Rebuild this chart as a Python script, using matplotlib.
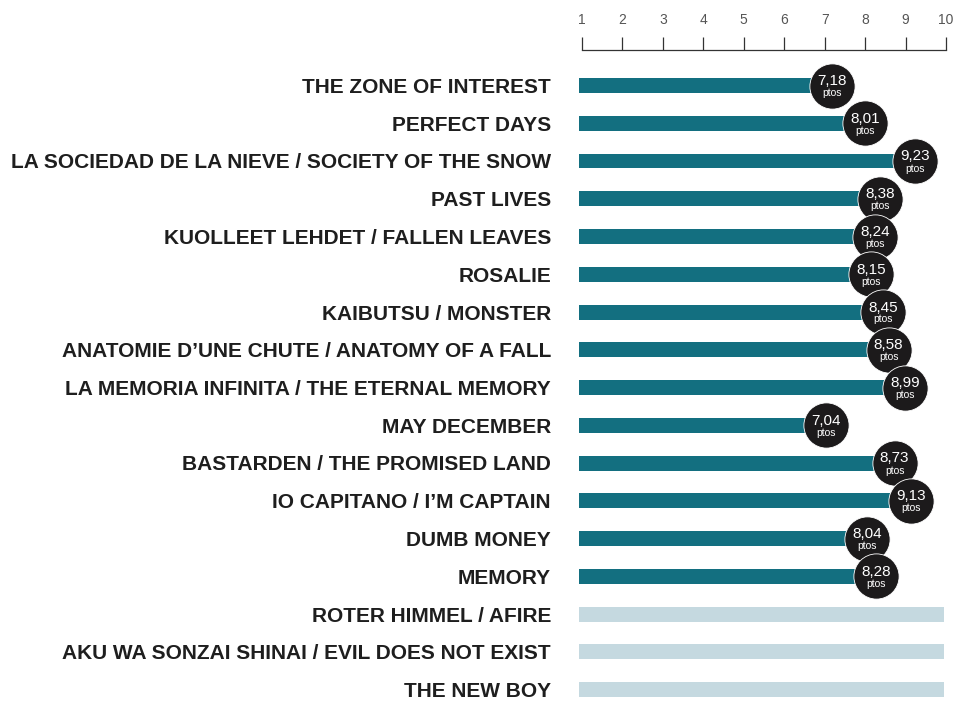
import matplotlib
matplotlib.use("Agg")
import matplotlib.pyplot as plt
from matplotlib.transforms import offset_copy

titles = [
    "THE ZONE OF INTEREST",
    "PERFECT DAYS",
    "LA SOCIEDAD DE LA NIEVE / SOCIETY OF THE SNOW",
    "PAST LIVES",
    "KUOLLEET LEHDET / FALLEN LEAVES",
    "ROSALIE",
    "KAIBUTSU / MONSTER",
    "ANATOMIE D\u2019UNE CHUTE / ANATOMY OF A FALL",
    "LA MEMORIA INFINITA / THE ETERNAL MEMORY",
    "MAY DECEMBER",
    "BASTARDEN / THE PROMISED LAND",
    "IO CAPITANO / I\u2019M CAPTAIN",
    "DUMB MONEY",
    "MEMORY",
    "ROTER HIMMEL / AFIRE",
    "AKU WA SONZAI SHINAI / EVIL DOES NOT EXIST",
    "THE NEW BOY",
]
scores = [7.18, 8.01, 9.23, 8.38, 8.24, 8.15, 8.45, 8.58, 8.99, 7.04,
          8.73, 9.13, 8.04, 8.28, None, None, None]
score_labels = ["7,18", "8,01", "9,23", "8,38", "8,24", "8,15", "8,45", "8,58",
                "8,99", "7,04", "8,73", "9,13", "8,04", "8,28"]
ticks = [1, 2, 3, 4, 5, 6, 7, 8, 9, 10]

W, H = 957, 701
fig = plt.figure(figsize=(W / 100, H / 100), dpi=100)
ax_left, ax_right, ax_top, ax_bottom = 579, 957, 50, 701
ax = fig.add_axes([ax_left / W, 1 - ax_bottom / H, (ax_right - ax_left) / W, (ax_bottom - ax_top) / H])

scale = 40.44
x0 = 1 - (582 - ax_left) / scale
x1 = 1 + (ax_right - 582) / scale
ax.set_xlim(x0, x1)
row = 37.75
ax.set_ylim((ax_bottom - 85.5) / row, -(85.5 - ax_top) / row)

dark = "#136f80"
light = "#c5d9e0"
bar_h = 15 / row
full_end = 1 + (944 - 582) / scale

for i, (t, s) in enumerate(zip(titles, scores)):
    if s is None:
        ax.barh(i, full_end - x0, left=x0, height=bar_h, color=light, zorder=1)
    else:
        ax.barh(i, s - x0, left=x0, height=bar_h, color=dark, zorder=1)

tr1 = offset_copy(ax.transData, fig=fig, x=0, y=4.5, units="dots")
tr2 = offset_copy(ax.transData, fig=fig, x=0, y=-7.5, units="dots")
for i, s in enumerate(scores):
    if s is None:
        continue
    ax.scatter([s], [i], s=1060, color="#1c1a1b", edgecolors="white", linewidths=0.6,
               zorder=3 + i, clip_on=False)
    ax.text(s, i, score_labels[i], transform=tr1, ha="center", va="center",
            color="white", fontsize=11, family="Liberation Sans", zorder=3 + i)
    ax.text(s, i, "ptos", transform=tr2, ha="center", va="center",
            color="white", fontsize=7.5, family="Liberation Sans", zorder=3 + i)

ax.set_yticks(range(len(titles)))
ax.set_yticklabels(titles, fontsize=15, fontweight="bold", family="Liberation Sans",
                   color="#1e1e1e")
ax.tick_params(axis="y", length=0, pad=28 * 72 / 100)

ax.xaxis.tick_top()
ax.set_xticks(ticks)
ax.set_xticklabels([str(t) for t in ticks], fontsize=10, family="Liberation Sans", color="#555555")
ax.tick_params(axis="x", direction="out", length=13 * 72 / 100, width=0.9, color="#333333",
               pad=10 * 72 / 100)
for side in ["right", "bottom", "left"]:
    ax.spines[side].set_visible(False)
ax.spines["top"].set_bounds(1, 10)
ax.spines["top"].set_color("#333333")
ax.spines["top"].set_linewidth(0.9)

fig.savefig("out.png", dpi=100, facecolor="white")
